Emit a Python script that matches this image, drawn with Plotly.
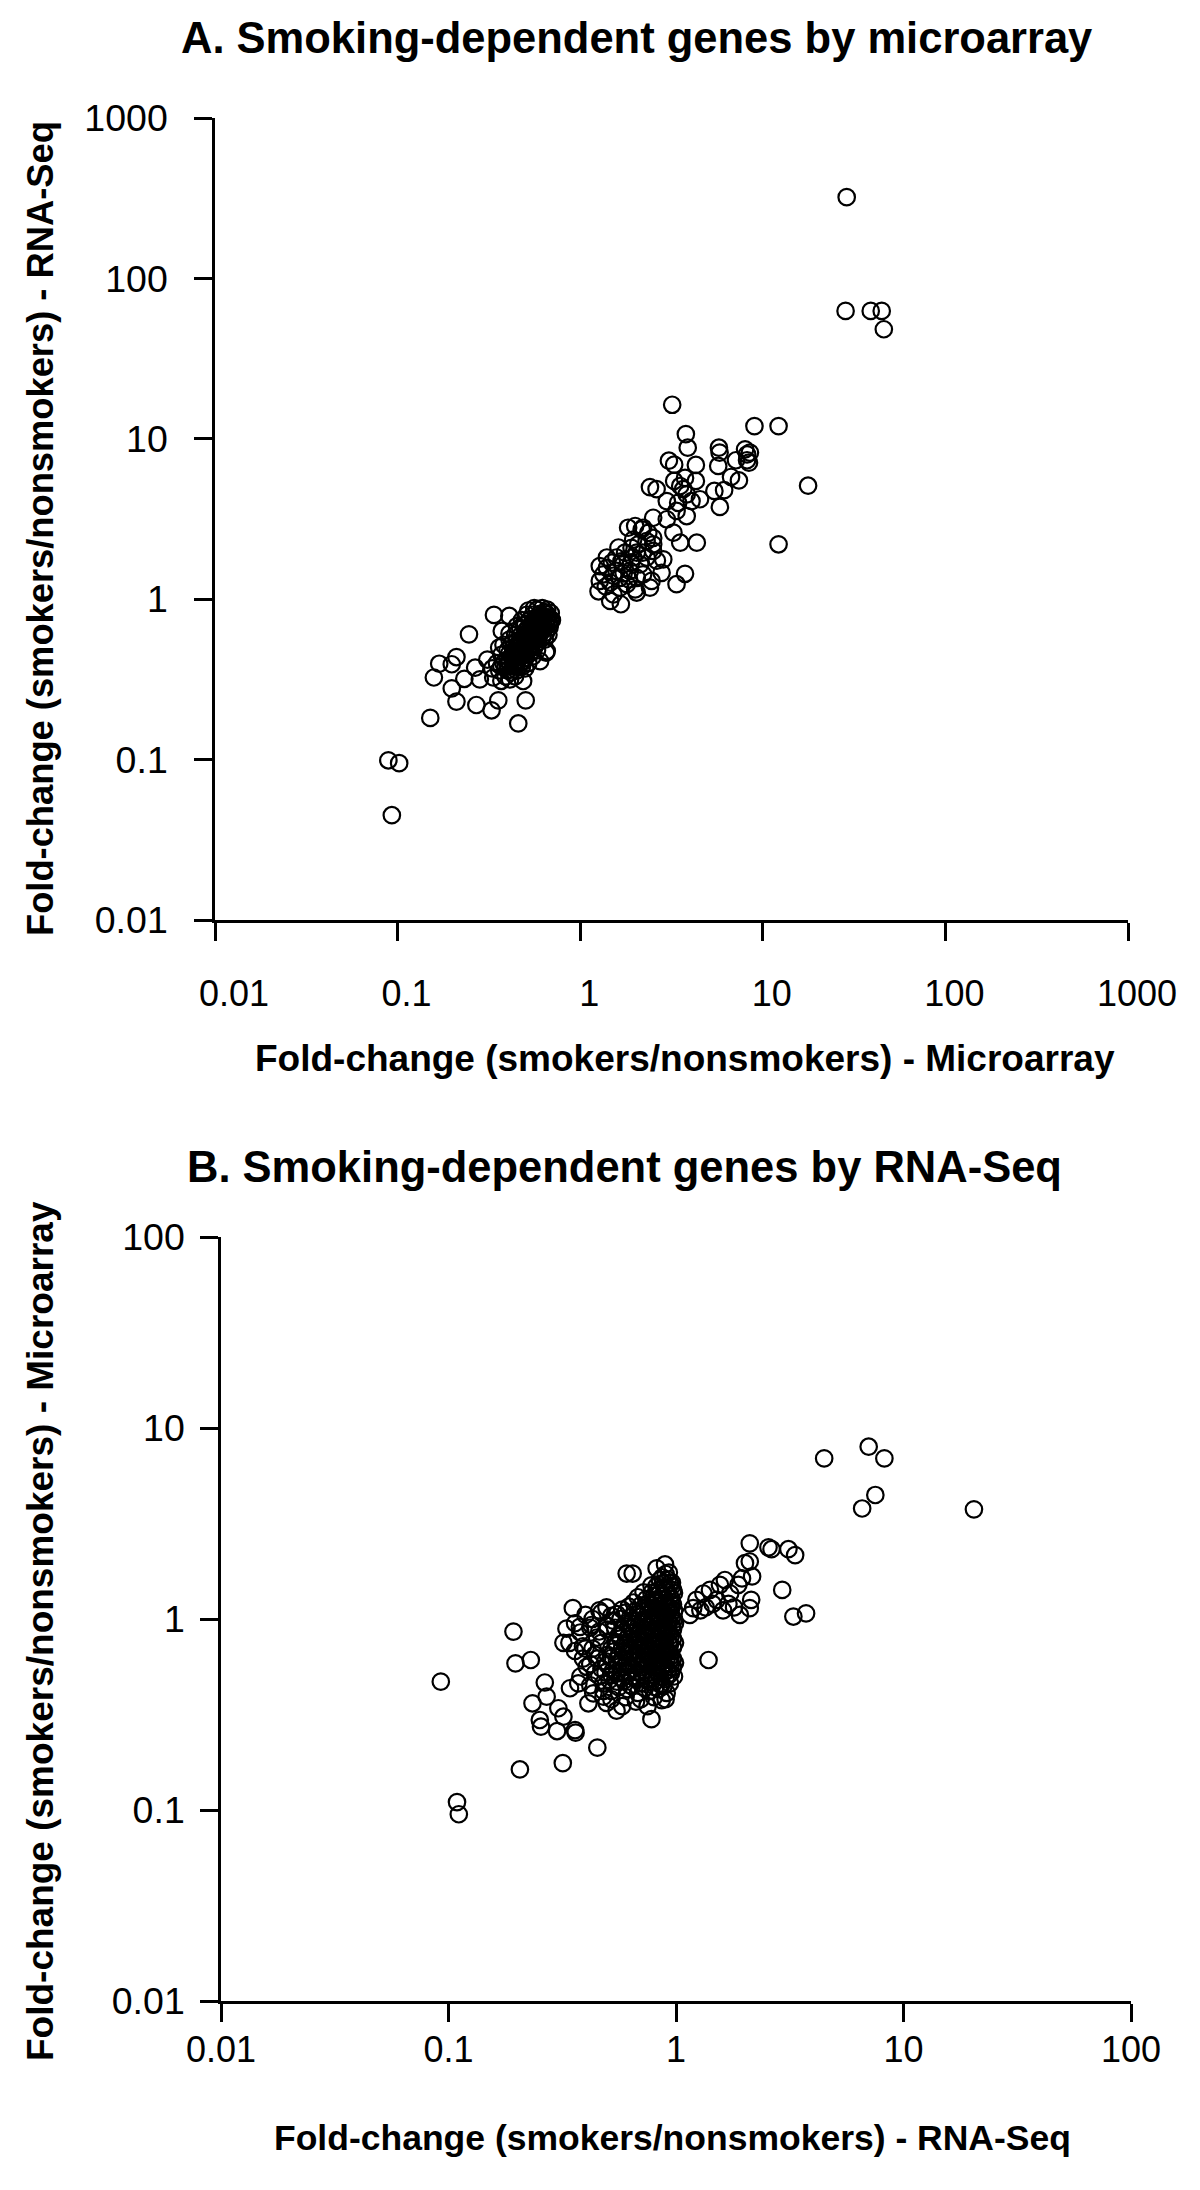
import plotly.graph_objects as go

# ---------------- Panel A: x = Microarray fold-change, y = RNA-Seq fold-change
A_OUTLIERS = [(28.8, 321), (28.4, 62.7), (39, 62.7), (44.8, 62.7), (46, 48.2)]
A_HIGH = [
    (9.0, 12.0), (12.2, 12.0), (17.7, 5.1), (12.2, 2.2), (8.5, 8.2), (8.4, 7.1),
    (3.19, 16.3), (3.79, 10.7), (3.88, 8.8), (5.75, 8.8), (5.8, 8.2), (8.0, 8.6), (8.2, 8.0),
    (8.2, 7.35), (7.13, 7.35), (3.06, 7.3), (3.27, 6.9), (4.3, 6.87), (5.7, 6.77), (6.7, 5.78),
    (7.4, 5.5), (3.75, 5.7), (4.3, 5.46), (3.27, 5.46), (2.41, 5.0), (2.62, 4.85), (3.67, 4.85),
    (5.43, 4.73), (6.14, 4.78), (2.98, 4.09), (3.44, 3.99), (4.07, 4.09), (4.53, 4.2), (3.83, 3.3),
    (5.82, 3.76), (2.98, 3.15), (2.51, 3.22), (3.37, 3.55), (3.24, 2.6), (3.53, 2.25), (4.35, 2.25),
    (3.75, 1.44), (3.37, 1.24), (3.83, 4.5), (3.53, 5.08),
]
A_MID = [
    (1.83, 2.79), (2.0, 2.86), (2.17, 2.72), (2.36, 2.59), (2.51, 2.41), (2.31, 2.30), (2.08, 2.20),
    (1.91, 2.09), (1.76, 1.95), (1.58, 1.82), (1.49, 1.69), (1.40, 1.57), (1.34, 1.43), (1.28, 1.30),
    (1.46, 1.27), (1.65, 1.36), (1.87, 1.50), (2.13, 1.65), (2.31, 1.82), (2.51, 2.0), (1.95, 1.82),
    (1.72, 1.65), (1.58, 1.50), (1.80, 1.24), (2.04, 1.36), (2.21, 1.43), (2.63, 1.74), (2.04, 1.95),
    (1.52, 1.07), (1.65, 1.18), (2.0, 1.15), (2.46, 1.30), (2.79, 1.46), (2.85, 1.77), (2.41, 1.18),
    (1.26, 1.12), (1.46, 0.975), (1.67, 0.93), (2.04, 1.10), (1.28, 1.61), (1.40, 1.82), (1.62, 2.10),
    (2.51, 2.20), (2.21, 2.79), (1.52, 1.40), (1.73, 1.45), (1.90, 1.70), (2.20, 1.95), (1.68, 1.72),
    (1.95, 2.35), (1.38, 1.20), (1.85, 1.33),
]
A_LOW = [
    (0.089, 0.099), (0.102, 0.095), (0.093, 0.045), (0.151, 0.182),
    (0.246, 0.604), (0.158, 0.325), (0.169, 0.396), (0.198, 0.393), (0.210, 0.436), (0.198, 0.278),
    (0.210, 0.230), (0.232, 0.319), (0.270, 0.219), (0.327, 0.203), (0.356, 0.234), (0.458, 0.168),
    (0.503, 0.234), (0.266, 0.374), (0.282, 0.316), (0.337, 0.798), (0.409, 0.786), (0.372, 0.634),
    (0.487, 0.309), (0.413, 0.316), (0.334, 0.325), (0.656, 0.475), (0.65, 0.465), (0.603, 0.411),
    (0.36, 0.36), (0.38, 0.40), (0.40, 0.42), (0.42, 0.44), (0.44, 0.47), (0.46, 0.50), (0.48, 0.53),
    (0.50, 0.56), (0.52, 0.60), (0.54, 0.63), (0.56, 0.67), (0.58, 0.71), (0.60, 0.75), (0.62, 0.79),
    (0.64, 0.83), (0.62, 0.88), (0.66, 0.80), (0.40, 0.36), (0.43, 0.39), (0.46, 0.42), (0.49, 0.45),
    (0.52, 0.49), (0.55, 0.53), (0.58, 0.57), (0.61, 0.62), (0.64, 0.66), (0.67, 0.72), (0.69, 0.75),
    (0.35, 0.40), (0.37, 0.45), (0.40, 0.48), (0.42, 0.52), (0.45, 0.55), (0.47, 0.59), (0.50, 0.63),
    (0.52, 0.67), (0.55, 0.72), (0.57, 0.76), (0.60, 0.81), (0.58, 0.86), (0.44, 0.38), (0.47, 0.40),
    (0.50, 0.43), (0.53, 0.46), (0.56, 0.50), (0.59, 0.54), (0.62, 0.58), (0.65, 0.62), (0.68, 0.67),
    (0.39, 0.33), (0.42, 0.35), (0.45, 0.36), (0.48, 0.38), (0.52, 0.40), (0.55, 0.44), (0.58, 0.48),
    (0.38, 0.52), (0.41, 0.56), (0.44, 0.60), (0.47, 0.65), (0.50, 0.70), (0.53, 0.75), (0.55, 0.80),
    (0.50, 0.50), (0.53, 0.55), (0.56, 0.59), (0.59, 0.64), (0.46, 0.46), (0.43, 0.47), (0.57, 0.66),
    (0.61, 0.70), (0.63, 0.73), (0.48, 0.74), (0.51, 0.80), (0.45, 0.68), (0.37, 0.31), (0.44, 0.33),
    (0.50, 0.37), (0.33, 0.37), (0.31, 0.42), (0.36, 0.50), (0.41, 0.61), (0.52, 0.85), (0.56, 0.88),
    (0.66, 0.86), (0.69, 0.82), (0.70, 0.74), (0.64, 0.56), (0.67, 0.60),
    (0.37, 0.38), (0.39, 0.38), (0.41, 0.40), (0.43, 0.42), (0.45, 0.44), (0.47, 0.48), (0.49, 0.51),
    (0.51, 0.54), (0.53, 0.58), (0.55, 0.61), (0.57, 0.64), (0.59, 0.69), (0.61, 0.73), (0.63, 0.77),
    (0.65, 0.82), (0.41, 0.46), (0.43, 0.50), (0.46, 0.53), (0.48, 0.57), (0.51, 0.61), (0.53, 0.65),
    (0.56, 0.70), (0.58, 0.74), (0.60, 0.78), (0.47, 0.44), (0.50, 0.47), (0.53, 0.51), (0.56, 0.55),
    (0.59, 0.59), (0.62, 0.64), (0.65, 0.69), (0.67, 0.77), (0.68, 0.70), (0.40, 0.39), (0.45, 0.40),
    (0.49, 0.41),
]

# ---------------- Panel B: x = RNA-Seq fold-change, y = Microarray fold-change
B_FAR = [(20.4, 3.75), (4.48, 6.93), (7.03, 7.98), (8.24, 6.93), (7.52, 4.46), (6.58, 3.79)]
B_RIGHT = [
    (2.11, 2.49), (2.55, 2.37), (2.63, 2.32), (3.12, 2.32), (3.34, 2.16), (2.11, 2.0), (2.16, 1.67),
    (2.93, 1.42), (2.14, 1.26), (2.11, 1.14), (3.28, 1.03), (3.73, 1.07), (1.19, 1.14), (1.28, 1.11),
    (1.32, 1.36), (1.41, 1.42), (1.56, 1.51), (1.61, 1.11), (1.73, 1.36), (1.91, 1.05), (1.88, 1.51),
    (1.95, 1.63), (2.01, 1.96), (1.64, 1.60), (1.51, 1.26), (1.23, 1.26), (1.39, 0.61), (1.15, 1.05),
    (1.45, 1.20), (1.70, 1.20), (1.80, 1.15), (1.35, 1.15),
]
B_LEFT = [
    (0.0925, 0.47), (0.109, 0.110), (0.111, 0.095), (0.206, 0.163), (0.318, 0.176), (0.451, 0.212),
    (0.193, 0.859), (0.197, 0.586), (0.230, 0.61), (0.265, 0.465), (0.234, 0.362), (0.270, 0.392),
    (0.252, 0.296), (0.255, 0.273), (0.30, 0.259), (0.304, 0.341), (0.32, 0.308), (0.36, 0.262),
    (0.362, 0.254), (0.352, 1.14), (0.33, 0.89), (0.32, 0.75), (0.34, 0.75), (0.46, 1.11), (0.495, 1.15),
    (0.607, 1.73), (0.645, 1.73), (0.822, 1.84), (0.895, 1.93), (0.78, 0.299), (0.865, 0.376),
    (0.667, 0.369), (0.548, 0.331), (0.412, 0.362), (0.342, 0.434), (0.372, 0.46), (0.495, 0.364),
    (0.48, 0.392), (0.433, 0.408), (0.405, 0.562), (0.40, 1.05), (0.43, 1.0), (0.47, 1.08), (0.52, 1.04),
    (0.36, 0.95), (0.38, 0.85), (0.42, 0.9), (0.45, 0.8), (0.40, 0.7), (0.44, 0.65), (0.39, 0.62),
    (0.36, 0.68), (0.378, 0.91), (0.39, 0.72), (0.425, 0.93),
    (0.44, 0.52), (0.42, 0.58), (0.45, 0.62), (0.43, 0.70), (0.47, 0.75), (0.46, 0.86), (0.50, 0.92),
    (0.53, 0.98), (0.55, 1.06), (0.58, 1.12), (0.48, 0.42), (0.42, 0.45), (0.38, 0.50), (0.50, 0.88),
    (0.54, 0.90), (0.57, 1.00), (0.60, 1.08), (0.62, 1.16), (0.65, 1.22), (0.68, 1.30), (0.72, 1.38),
    (0.52, 0.38), (0.60, 0.39), (0.70, 0.38), (0.80, 0.39), (0.90, 0.38), (0.58, 0.35), (0.75, 0.35),
]
B_CORE = [
    (0.52, 0.42), (0.61, 0.43), (0.68, 0.41), (0.77, 0.42), (0.84, 0.43), (0.91, 0.41),
    (0.48, 0.46), (0.55, 0.47), (0.63, 0.45), (0.70, 0.46), (0.78, 0.47), (0.86, 0.45), (0.94, 0.46),
    (0.46, 0.50), (0.52, 0.51), (0.58, 0.49), (0.64, 0.50), (0.71, 0.51), (0.78, 0.49), (0.85, 0.50),
    (0.93, 0.51), (0.98, 0.50), (0.47, 0.55), (0.53, 0.54), (0.59, 0.56), (0.65, 0.55), (0.72, 0.54),
    (0.79, 0.56), (0.86, 0.55), (0.92, 0.54), (0.97, 0.56), (0.49, 0.60), (0.55, 0.61), (0.61, 0.59),
    (0.67, 0.60), (0.73, 0.61), (0.80, 0.59), (0.87, 0.60), (0.94, 0.61), (0.99, 0.59), (0.50, 0.65),
    (0.56, 0.64), (0.62, 0.66), (0.68, 0.65), (0.75, 0.64), (0.82, 0.66), (0.88, 0.65), (0.95, 0.64),
    (0.52, 0.70), (0.58, 0.71), (0.64, 0.69), (0.70, 0.70), (0.76, 0.71), (0.83, 0.69), (0.90, 0.70),
    (0.97, 0.71), (0.54, 0.76), (0.60, 0.75), (0.66, 0.77), (0.72, 0.76), (0.79, 0.75), (0.86, 0.77),
    (0.93, 0.76), (0.99, 0.75), (0.56, 0.82), (0.62, 0.81), (0.68, 0.83), (0.74, 0.82), (0.81, 0.81),
    (0.88, 0.83), (0.95, 0.82), (0.58, 0.88), (0.64, 0.89), (0.70, 0.87), (0.77, 0.88), (0.84, 0.89),
    (0.91, 0.87), (0.97, 0.88), (0.60, 0.95), (0.66, 0.94), (0.72, 0.96), (0.79, 0.95), (0.86, 0.94),
    (0.93, 0.96), (0.99, 0.95), (0.63, 1.02), (0.69, 1.03), (0.76, 1.01), (0.83, 1.02), (0.90, 1.03),
    (0.96, 1.01), (0.66, 1.10), (0.72, 1.09), (0.79, 1.11), (0.86, 1.10), (0.93, 1.09), (0.98, 1.11),
    (0.70, 1.18), (0.77, 1.19), (0.84, 1.17), (0.91, 1.18), (0.97, 1.19), (0.74, 1.27), (0.81, 1.26),
    (0.88, 1.28), (0.95, 1.27), (0.78, 1.37), (0.85, 1.36), (0.92, 1.38), (0.98, 1.37), (0.82, 1.48),
    (0.89, 1.47), (0.96, 1.49), (0.85, 1.60), (0.92, 1.61), (0.90, 1.72), (0.93, 1.75), (0.87, 1.65),
    (0.96, 1.55), (0.78, 1.50), (0.57, 0.52), (0.67, 0.57), (0.75, 0.58), (0.83, 0.62), (0.91, 0.67),
    (0.61, 0.73), (0.69, 0.79), (0.74, 0.91), (0.81, 0.98), (0.89, 1.06), (0.95, 1.14), (0.70, 0.62),
    (0.62, 0.53), (0.88, 0.52), (0.81, 0.72), (0.65, 0.85), (0.59, 0.67), (0.77, 0.66), (0.84, 0.79),
    (0.91, 0.91), (0.72, 1.00), (0.80, 1.22), (0.87, 1.32),
]
B_CORE2 = [
    (0.56, 0.44), (0.64, 0.445), (0.73, 0.435), (0.81, 0.44), (0.88, 0.445),
    (0.51, 0.48), (0.59, 0.475), (0.67, 0.485), (0.74, 0.48), (0.82, 0.475), (0.90, 0.485),
    (0.49, 0.525), (0.55, 0.52), (0.61, 0.53), (0.68, 0.525), (0.75, 0.52), (0.82, 0.53), (0.89, 0.525), (0.95, 0.52),
    (0.50, 0.575), (0.56, 0.58), (0.62, 0.57), (0.69, 0.575), (0.76, 0.58), (0.83, 0.57), (0.89, 0.575), (0.95, 0.58),
    (0.52, 0.625), (0.58, 0.62), (0.64, 0.63), (0.70, 0.625), (0.77, 0.62), (0.84, 0.63), (0.91, 0.625), (0.97, 0.62),
    (0.53, 0.675), (0.59, 0.68), (0.65, 0.67), (0.72, 0.675), (0.79, 0.68), (0.86, 0.67), (0.93, 0.675),
    (0.55, 0.73), (0.61, 0.735), (0.67, 0.725), (0.73, 0.73), (0.80, 0.735), (0.87, 0.725), (0.94, 0.73),
    (0.57, 0.79), (0.63, 0.785), (0.69, 0.795), (0.76, 0.79), (0.83, 0.785), (0.90, 0.795), (0.97, 0.79),
    (0.59, 0.85), (0.65, 0.855), (0.72, 0.845), (0.79, 0.85), (0.86, 0.855), (0.93, 0.845),
    (0.62, 0.915), (0.68, 0.91), (0.75, 0.92), (0.82, 0.915), (0.89, 0.91), (0.96, 0.92),
    (0.64, 0.985), (0.71, 0.98), (0.78, 0.99), (0.85, 0.985), (0.92, 0.98), (0.98, 0.99),
    (0.68, 1.06), (0.75, 1.065), (0.82, 1.055), (0.89, 1.06), (0.95, 1.065),
    (0.72, 1.14), (0.79, 1.145), (0.86, 1.135), (0.93, 1.14),
    (0.76, 1.22), (0.83, 1.225), (0.90, 1.215), (0.96, 1.22),
    (0.80, 1.32), (0.87, 1.325), (0.94, 1.315),
    (0.84, 1.42), (0.91, 1.425), (0.97, 1.415),
    (0.88, 1.54), (0.94, 1.545),
]

TICKS_A = [0.01, 0.1, 1, 10, 100, 1000]
TICKS_B = [0.01, 0.1, 1, 10, 100]
TICKTEXT_A_X = ["\u00a0\u00a00.01", "0.1", "1", "10", "100", "1000"]
TICKTEXT_A_Y = ["0.01", "0.1", "1", "10", "100", "1000"]
TICKTEXT_B = ["0.01", "0.1", "1", "10", "100"]

TITLE_A = "A. Smoking-dependent genes by microarray"
TITLE_B = "B. Smoking-dependent genes by RNA-Seq"
XT_A = "Fold-change (smokers/nonsmokers) - Microarray"
YT_A = "Fold-change (smokers/nonsmokers) - RNA-Seq"
XT_B = "Fold-change (smokers/nonsmokers) - RNA-Seq"
YT_B = "Fold-change (smokers/nonsmokers) - Microarray"

W, H = 1200, 2190
OFF = 8  # page body margin of the HTML document
FONT = "Liberation Sans, Arial, Helvetica, sans-serif"


def px_x(p):
    return (p - OFF) / W


def px_y(p):
    return 1 - (p - OFF) / H


a_pts = A_OUTLIERS + A_HIGH + A_MID + A_LOW
b_pts = B_FAR + B_RIGHT + B_LEFT + B_CORE + B_CORE2

marker = dict(symbol="circle-open", size=16.5, color="black", line=dict(width=2.2, color="black"))

fig = go.Figure()
fig.add_trace(go.Scatter(x=[p[0] for p in a_pts], y=[p[1] for p in a_pts], mode="markers",
                         marker=marker, xaxis="x", yaxis="y", showlegend=False, hoverinfo="skip"))
fig.add_trace(go.Scatter(x=[p[0] for p in b_pts], y=[p[1] for p in b_pts], mode="markers",
                         marker=marker, xaxis="x2", yaxis="y2", showlegend=False, hoverinfo="skip"))

axis_common = dict(type="log", showline=True, linecolor="black", linewidth=2.5, mirror=False,
                   ticks="outside", ticklen=18, tickwidth=2.5, tickcolor="black",
                   showgrid=False, zeroline=False, automargin=False)
xfont = dict(family=FONT, size=36, color="black")
yfont = dict(family=FONT, size=37.5, color="black")

fig.update_layout(
    width=W, height=H,
    margin=dict(l=0, r=0, t=0, b=0, pad=0, autoexpand=False),
    paper_bgcolor="white", plot_bgcolor="white",
    xaxis=dict(axis_common, domain=[px_x(215), px_x(1128)], range=[-2, 3], anchor="y",
               tickvals=TICKS_A, ticktext=TICKTEXT_A_X, tickfont=xfont,
               ticklabelstandoff=22, ticklabelshift=9),
    yaxis=dict(axis_common, domain=[px_y(920), px_y(118)], range=[-2, 3], anchor="x",
               tickvals=TICKS_A, ticktext=TICKTEXT_A_Y, tickfont=yfont, ticklabelstandoff=19),
    xaxis2=dict(axis_common, domain=[px_x(221), px_x(1131)], range=[-2, 2], anchor="y2",
                tickvals=TICKS_B, ticktext=TICKTEXT_B, tickfont=xfont, ticklabelstandoff=-3),
    yaxis2=dict(axis_common, domain=[px_y(2001), px_y(1237)], range=[-2, 2], anchor="x2",
                tickvals=TICKS_B, ticktext=TICKTEXT_B, tickfont=yfont, ticklabelstandoff=8),
)

bold_title = dict(family=FONT, size=43.5, color="black", weight="bold")
bold_axis = dict(family=FONT, size=37, color="black", weight="bold")

ann = [
    dict(text=TITLE_A, x=px_x(636), y=px_y(38), font=bold_title),
    dict(text=TITLE_B, x=px_x(624), y=px_y(1167), font=bold_title),
    dict(text=XT_A, x=px_x(685), y=px_y(1059), font=bold_axis),
    dict(text=XT_B, x=px_x(672), y=px_y(2138), font=dict(bold_axis, size=35.5)),
    dict(text=YT_A, x=px_x(40), y=px_y(529), font=dict(bold_axis, size=36.3), textangle=-90),
    dict(text=YT_B, x=px_x(40), y=px_y(1631), font=bold_axis, textangle=-90),
]
for a in ann:
    a.update(xref="paper", yref="paper", showarrow=False, xanchor="center", yanchor="middle")
fig.update_layout(annotations=ann)

fig.write_html("out.html")
